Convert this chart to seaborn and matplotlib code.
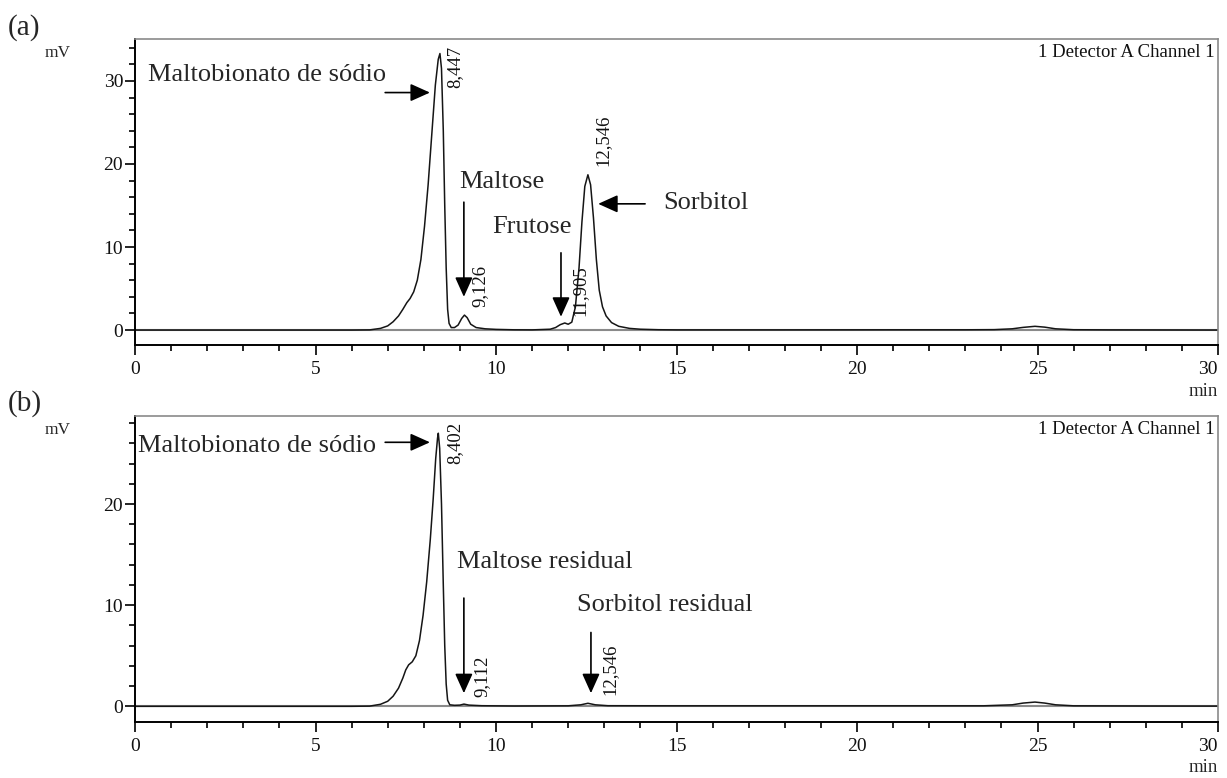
import matplotlib
matplotlib.use("Agg")
import matplotlib.pyplot as plt
from matplotlib.ticker import MultipleLocator
import seaborn as sns
import pandas as pd

# ---- chromatogram (a): retention time (min) and detector signal (mV) ----
time_a = [0, 2, 4, 6, 6.5, 6.8, 7.0, 7.15, 7.3, 7.42, 7.53, 7.62, 7.72, 7.82,
          7.92, 8.02, 8.12, 8.22, 8.32, 8.40, 8.447, 8.49, 8.54, 8.58, 8.62,
          8.66, 8.70, 8.76, 8.85, 8.95, 9.05, 9.126, 9.2, 9.3, 9.45, 9.7,
          10.0, 10.5, 11.0, 11.5, 11.65, 11.78, 11.905, 12.0, 12.1, 12.2,
          12.3, 12.38, 12.46, 12.546, 12.62, 12.7, 12.78, 12.86, 12.95,
          13.05, 13.2, 13.4, 13.7, 14.0, 14.5, 15, 18, 21, 23, 23.8, 24.3,
          24.6, 24.93, 25.2, 25.5, 26.0, 27, 30]
signal_a = [0, 0, 0, 0, 0.02, 0.2, 0.5, 1.0, 1.7, 2.5, 3.3, 3.8, 4.6, 6.0,
            8.5, 12.5, 17.5, 23.5, 29.5, 32.6, 33.3, 31.5, 24.0, 15.0, 7.5,
            2.5, 0.8, 0.3, 0.3, 0.6, 1.4, 1.8, 1.5, 0.7, 0.3, 0.15,
            0.08, 0.03, 0.02, 0.1, 0.3, 0.65, 0.85, 0.7, 0.95, 2.8,
            7.5, 13.0, 17.3, 18.7, 17.5, 13.5, 8.5, 4.8, 2.8,
            1.7, 0.9, 0.45, 0.2, 0.1, 0.04, 0.02, 0.02, 0.03, 0.03, 0.05, 0.15,
            0.32, 0.45, 0.35, 0.15, 0.04, 0.02, 0.0]
peaks_a = [8.447, 9.126, 11.905, 12.546]

# ---- chromatogram (b) ----
time_b = [0, 3, 6, 6.5, 6.8, 7.0, 7.15, 7.3, 7.42, 7.5, 7.58, 7.68, 7.78,
          7.88, 7.98, 8.08, 8.18, 8.26, 8.33, 8.38, 8.402, 8.44, 8.49, 8.54,
          8.58, 8.62, 8.66, 8.72, 8.85, 9.0, 9.112, 9.25, 9.6, 10.5, 12.0,
          12.35, 12.546, 12.75, 13.1, 15, 20, 23.5, 24.3, 24.6, 24.93, 25.2,
          25.5, 26, 28, 30]
signal_b = [0, 0, 0, 0.02, 0.2, 0.5, 1.0, 1.8, 2.8, 3.6, 4.1, 4.4, 5.0,
            6.5, 9.0, 12.3, 16.5, 20.5, 24.5, 26.5, 27.0, 25.5, 20.0, 12.0,
            6.0, 2.2, 0.6, 0.15, 0.1, 0.12, 0.22, 0.12, 0.06, 0.03, 0.05,
            0.15, 0.3, 0.15, 0.06, 0.05, 0.05, 0.05, 0.15, 0.32, 0.42, 0.32,
            0.15, 0.05, 0.03, 0.02]
peaks_b = [8.402, 9.112, 12.546]

# compound names
names_a = ["Maltobionato de sódio", "Maltose", "Frutose", "Sorbitol"]
names_b = ["Maltobionato de sódio", "Maltose residual", "Sorbitol residual"]

# axis ticks
x_ticks = [0, 5, 10, 15, 20, 25, 30]
y_ticks_a = [0, 10, 20, 30]
y_ticks_b = [0, 10, 20]

sns.set_theme(style="white")
plt.rcParams["font.family"] = ["Liberation Serif", "DejaVu Serif"]

W, H = 1227, 778
fig = plt.figure(figsize=(W / 100, H / 100), dpi=100)

LEFT, RIGHT = 135, 1218
ax_a = fig.add_axes([LEFT / W, 1 - 345 / H, (RIGHT - LEFT) / W, 306 / H])
ax_b = fig.add_axes([LEFT / W, 1 - 722 / H, (RIGHT - LEFT) / W, 306 / H])


def style_axis(ax, ylim, yticks):
    ax.set_xlim(0, 30)
    ax.set_ylim(*ylim)
    ax.axhline(0, color="#8a8a8a", lw=1.5, zorder=1)
    ax.set_xticks(x_ticks)
    ax.set_xticklabels([str(v) for v in x_ticks])
    ax.xaxis.set_minor_locator(MultipleLocator(1))
    ax.set_yticks(yticks)
    ax.set_yticklabels([str(v) for v in yticks])
    ax.yaxis.set_minor_locator(MultipleLocator(2))
    ax.tick_params(axis="both", which="major", direction="out", length=7.5,
                   width=1.2, color="black", labelsize=14, bottom=True,
                   left=True, labelcolor="#111111")
    ax.tick_params(axis="both", which="minor", direction="out", length=4,
                   width=1.2, color="black", bottom=True, left=True)
    ax.tick_params(axis="y", which="major", pad=1)
    ax.tick_params(axis="x", which="major", pad=4)
    ax.get_xticklabels()[-1].set_horizontalalignment("right")
    for side in ("left", "bottom"):
        ax.spines[side].set_color("black")
        ax.spines[side].set_linewidth(1.4)
    for side in ("top", "right"):
        ax.spines[side].set_color("#8a8a8a")
        ax.spines[side].set_linewidth(1.2)
    ax.set_xlabel("")
    ax.set_ylabel("")
    ax.text(0.997, 0.955, "1 Detector A Channel 1", transform=ax.transAxes,
            ha="right", va="center", fontsize=13.5, color="#111111")


def draw_trace(ax, t, s):
    df = pd.DataFrame({"t": t, "mV": s})
    sns.lineplot(data=df, x="t", y="mV", ax=ax, color="#151515", lw=1.1,
                 estimator=None, sort=False, zorder=2)


def rt_label(ax, rt, top, dx):
    ax.text(rt + dx, top, f"{rt:.3f}".replace(".", ","), rotation=90,
            ha="center", va="top", fontsize=13.5, color="#111111")


def arrow(ax, tail, head):
    ax.annotate("", xy=head, xytext=tail,
                arrowprops=dict(arrowstyle="-|>,head_length=0.6,head_width=0.27",
                                color="black", lw=1.2, mutation_scale=20,
                                shrinkA=0, shrinkB=0))


# ---- panel (a) ----
draw_trace(ax_a, time_a, signal_a)
style_axis(ax_a, (-1.8, 35.05), y_ticks_a)
for rt, top in zip(peaks_a, [34.2, 7.8, 7.8, 25.9]):
    rt_label(ax_a, rt, top, 0.42)

ax_a.text(0.36, 30.7, names_a[0], fontsize=19, ha="left", va="center")
arrow(ax_a, (6.93, 28.6), (8.17, 28.6))
ax_a.text(8.98, 17.8, names_a[1], fontsize=19, ha="left", va="center")
arrow(ax_a, (9.11, 15.4), (9.11, 4.0))
ax_a.text(9.89, 12.4, names_a[2], fontsize=19, ha="left", va="center")
arrow(ax_a, (11.8, 9.3), (11.8, 1.6))
ax_a.text(14.63, 15.3, names_a[3], fontsize=19, ha="left", va="center")
arrow(ax_a, (14.13, 15.2), (12.83, 15.2))

# ---- panel (b) ----
draw_trace(ax_b, time_b, signal_b)
style_axis(ax_b, (-1.55, 28.7), y_ticks_b)
for rt, top, dx in zip(peaks_b, [28.1, 5.0, 6.2], [0.46, 0.49, 0.61]):
    rt_label(ax_b, rt, top, dx)

ax_b.text(0.08, 25.7, names_b[0], fontsize=19, ha="left", va="center")
arrow(ax_b, (6.93, 26.1), (8.17, 26.1))
ax_b.text(8.92, 14.3, names_b[1], fontsize=19, ha="left", va="center")
arrow(ax_b, (9.11, 10.7), (9.11, 1.3))
ax_b.text(12.24, 10.0, names_b[2], fontsize=19, ha="left", va="center")
arrow(ax_b, (12.63, 7.3), (12.63, 1.3))

# ---- panel tags, units ----
for tag, y_tag, y_mv, y_min in (("(a)", 28, 53, 392), ("(b)", 404, 430, 768)):
    fig.text(8 / W, 1 - y_tag / H, tag, fontsize=21, ha="left", va="center")
    fig.text(45 / W, 1 - y_mv / H, "mV", fontsize=12.5, ha="left", va="center")
    fig.text(RIGHT / W, 1 - y_min / H, "min", fontsize=13.5, ha="right",
             va="center")

fig.savefig("out.png", dpi=100)
